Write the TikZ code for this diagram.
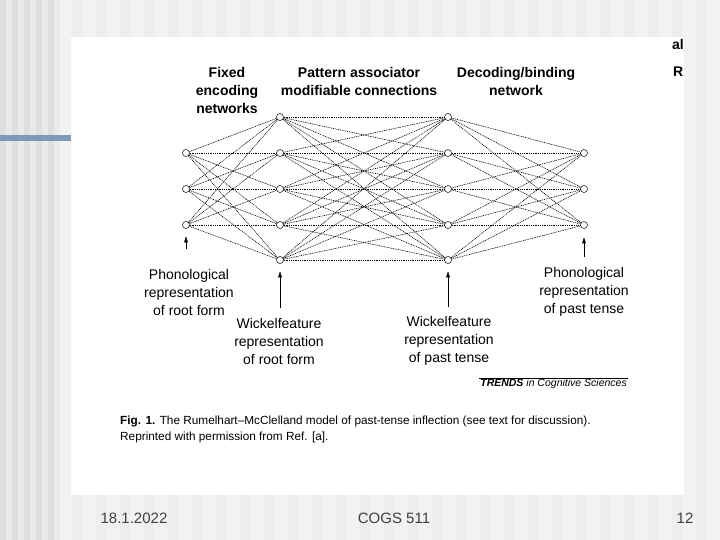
\documentclass[tikz,border=0pt]{standalone}
\usepackage{fontspec}
\setmainfont{Liberation Sans}
\usetikzlibrary{arrows.meta, positioning}

\definecolor{slidegrey}{HTML}{F2F2F2}
\definecolor{stripedark}{HTML}{DFDFDF}
\definecolor{stripelight}{HTML}{EAEAEA}
\definecolor{barblue}{HTML}{7F9AB8}

\begin{document}
\begin{tikzpicture}[
    x=1pt, y=-1pt, >={Triangle[length=6pt, width=3.5pt]},
    unit/.style={draw, circle, inner sep=0pt, minimum size=7pt,
                 fill=white, line width=0.5pt},
    link/.style={dash pattern=on 1pt off 0.8pt, line width=0.6pt},
    head/.style={font=\bfseries\fontsize{14}{18}\selectfont, align=center},
    tag/.style={font=\fontsize{14}{18}\selectfont, align=center},
    foot/.style={font=\fontsize{15}{17}\selectfont, text=black!75}
  ]
  \useasboundingbox (0,0) rectangle (720,540);

  % slide background
  \fill[slidegrey] (0,0) rectangle (720,540);
  \foreach \s in {0,12,...,48}
    \fill[stripedark] (\s,0) rectangle ++(6,540);
  \foreach \s in {6,18,...,54}
    \fill[stripelight] (\s,0) rectangle ++(6,540);
  \foreach \s in {72,96,...,700}
    \fill[black!7] (\s,0) rectangle ++(10,540);
  \fill[barblue] (0,135) rectangle (71,141);
  \fill[white] (71,37) rectangle (684,495);

  % units
  \foreach \y [count=\i] in {153,189,225}
    \node[unit] (a\i) at (186,\y) {};
  \foreach \y [count=\i] in {117,153,189,225,260} {
    \node[unit] (b\i) at (280,\y) {};
    \node[unit] (c\i) at (448,\y) {};
  }
  \foreach \y [count=\i] in {153,189,225}
    \node[unit] (d\i) at (584,\y) {};

  % connections
  \foreach \i in {1,...,3}
    \foreach \j in {1,...,5} {
      \draw[link] (a\i) -- (b\j);
      \draw[link] (c\j) -- (d\i);
    }
  \foreach \i in {1,...,5}
    \foreach \j in {1,...,5}
      \draw[link] (b\i) -- (c\j);

  % headings
  \node[head] (fixed) at (227,90) {Fixed\\encoding\\networks};
  \node[head] (assoc) at (359,81) {Pattern associator\\modifiable connections};
  \node[head] (decode) at (516,81) {Decoding/binding\\network};

  % layer labels
  \node[tag] (rootphon) at (189,292) {Phonological\\representation\\of root form};
  \node[tag] (rootwf) at (279,341) {Wickelfeature\\representation\\of root form};
  \node[tag] (pastwf) at (449,341) {Wickelfeature\\representation\\of past tense};
  \node[tag] (pastphon) at (584,292) {Phonological\\representation\\of past tense};

  \draw[->, shorten <=16pt, shorten >=7.5pt] (rootphon.north -| a3) -- (a3);
  \draw[->, shorten <=6pt, shorten >=7.5pt] (rootwf.north -| b5) -- (b5);
  \draw[->, shorten <=6pt, shorten >=7.5pt] (pastwf.north -| c5) -- (c5);
  \draw[->, line width=0.8pt, shorten <=7pt, shorten >=8.5pt]
    (pastphon.north -| d3) -- (d3);

  % source and caption
  \node[anchor=east, inner sep=1pt,
        font=\itshape\fontsize{10.5}{12}\selectfont] (trends) at (628,384)
    {\textbf{TRENDS} in Cognitive Sciences};
  \draw[line width=0.6pt] (trends.north west) -- (trends.north east);
  \node[anchor=north west, align=left, inner sep=0pt,
        font=\fontsize{11.8}{16}\selectfont] (caption) at (120,416)
    {\textbf{Fig. 1.} The Rumelhart--McClelland model of past-tense inflection (see text for discussion).\\
     Reprinted with permission from Ref. [a].};

  % cut-off text at the right edge
  \begin{scope}
    \clip (71,37) rectangle (684,495);
    \node[anchor=west, inner sep=0pt,
          font=\bfseries\fontsize{14}{16}\selectfont] (frag1) at (672,44) {al};
    \node[anchor=west, inner sep=0pt,
          font=\bfseries\fontsize{14}{16}\selectfont] (frag2) at (673,72) {R};
  \end{scope}

  % footer
  \node[foot] (date) at (134,518) {18.1.2022};
  \node[foot] (course) at (394,518) {COGS 511};
  \node[foot] (page) at (685,518) {12};
\end{tikzpicture}
\end{document}
